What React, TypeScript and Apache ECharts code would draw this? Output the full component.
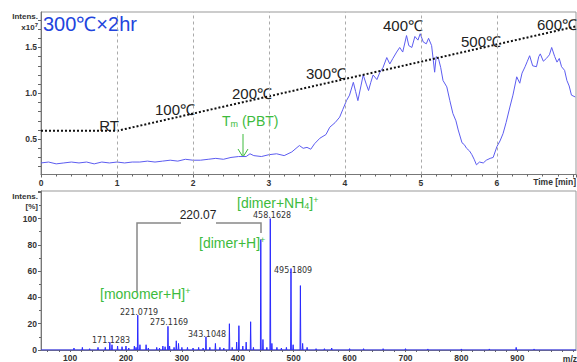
import React, { useEffect, useRef } from "react";
import * as echarts from "echarts";

// ---- Upper panel: total ion chromatogram (intensity x10^7 vs time in min)
const ticTime = [
  0, 0.1, 0.2, 0.3, 0.4, 0.5, 0.6, 0.7, 0.8, 0.9, 1.0, 1.1, 1.2, 1.3, 1.4, 1.5,
  1.6, 1.7, 1.8, 1.9, 2.0, 2.1, 2.2, 2.3, 2.4, 2.5, 2.6, 2.7, 2.75, 2.8, 2.9, 3.0,
  3.1, 3.2, 3.3, 3.4, 3.45, 3.5, 3.55, 3.6, 3.67, 3.75, 3.8, 3.87, 3.93, 3.97,
  4.02, 4.06, 4.11, 4.14, 4.17, 4.21, 4.24, 4.28, 4.31, 4.34, 4.37, 4.42, 4.46,
  4.5, 4.55, 4.59, 4.63, 4.68, 4.72, 4.76, 4.81, 4.84, 4.88, 4.92, 4.96, 4.99,
  5.03, 5.07, 5.1, 5.14, 5.18, 5.2, 5.23, 5.26, 5.29, 5.34, 5.38, 5.42, 5.46,
  5.49, 5.54, 5.57, 5.6, 5.64, 5.67, 5.7, 5.73, 5.77, 5.82, 5.86, 5.91, 5.95,
  6.0, 6.04, 6.08, 6.12, 6.17, 6.21, 6.26, 6.3, 6.33, 6.37, 6.4, 6.43, 6.47,
  6.52, 6.55, 6.57, 6.61, 6.65, 6.69, 6.72, 6.76, 6.79, 6.82, 6.85, 6.89, 6.92,
  6.95, 6.98, 7.03,
];
const ticIntensity = [
  0.24, 0.25, 0.23, 0.24, 0.25, 0.24, 0.25, 0.23, 0.25, 0.24, 0.25, 0.24, 0.25, 0.25, 0.26, 0.25,
  0.26, 0.27, 0.26, 0.28, 0.27, 0.27, 0.28, 0.29, 0.28, 0.3, 0.31, 0.31, 0.34, 0.32, 0.31, 0.33,
  0.34, 0.32, 0.36, 0.43, 0.4, 0.41, 0.39, 0.45, 0.51, 0.55, 0.63, 0.68, 0.74, 0.82,
  0.92, 0.98, 1.12, 1.02, 0.92, 1.08, 1.2, 1.1, 1.03, 1.12, 1.2, 1.15, 1.23,
  1.28, 1.39, 1.32, 1.38, 1.45, 1.5, 1.45, 1.63, 1.52, 1.5, 1.62, 1.58, 1.65,
  1.56, 1.54, 1.6, 1.52, 1.23, 1.4, 1.38, 1.28, 1.14, 1.07, 0.92, 0.78, 0.7,
  0.6, 0.46, 0.44, 0.4, 0.37, 0.33, 0.28, 0.22, 0.25, 0.24, 0.27, 0.29, 0.3,
  0.42, 0.48, 0.56, 0.68, 0.85, 0.98, 1.18, 1.11, 1.22, 1.29, 1.35, 1.41, 1.3,
  1.29, 1.4, 1.43, 1.35, 1.38, 1.42, 1.5, 1.4, 1.34, 1.38, 1.29, 1.25, 1.14,
  1.08, 0.98, 0.96,
];
// temperature programme overlay (drawn in the same scale as the chromatogram)
const tempTime = [0, 1, 7.04];
const tempLevel = [0.59, 0.59, 1.73];
const tempLabels = ["RT", "100℃", "200℃", "300℃", "400℃", "500℃", "600℃"];
const timeLabels = [0, 1, 2, 3, 4, 5, 6];
const timeGrid = [1, 2, 3, 4, 5, 6];
const intensityLabels = [0.5, 1.0, 1.5];
const intensityTickMarks = [0.2, 0.3, 0.4, 0.5, 0.6, 0.7, 0.8, 0.9, 1.0, 1.1, 1.2, 1.3, 1.4, 1.5, 1.6, 1.7, 1.8];

// ---- Lower panel: mass spectrum (relative intensity % vs m/z)
const peakMz = [
  107, 122, 135, 150, 163, 171.13, 175, 185, 193, 200, 205, 215, 218, 221.07, 225,
  236, 240, 255, 260, 266, 270, 275.12, 278, 286, 290, 294, 300, 310, 320, 330,
  338, 343.1, 350, 360, 368, 375, 385, 390, 398, 402, 409, 415, 423, 428, 441.15,
  445, 452, 458.16, 461, 470, 478, 487, 495.18, 499, 512, 516, 524, 540, 555, 568,
  600, 625, 660, 700, 740, 800, 850, 898, 930,
];
const peakPct = [
  1.5, 2, 1, 2, 2, 6, 4, 3, 2.5, 3, 1.5, 3, 2, 26.5, 4,
  4, 1.5, 2, 1.5, 3, 2.5, 18, 3, 2, 7, 5, 2, 2, 1.5, 2,
  1.5, 10, 2, 5, 2, 1.5, 20, 2, 6, 18.5, 3, 6, 21.5, 2, 84,
  8, 2, 100, 5, 2, 1.5, 2, 62, 4, 49, 5, 2, 1, 1, 1.5,
  1, 1, 1, 1, 0.8, 0.8, 0.8, 2, 0.8,
];
const mzLabels = [100, 200, 300, 400, 500, 600, 700, 800, 900];
const mzTickMarks = [
  60, 80, 100, 120, 140, 160, 180, 200, 220, 240, 260, 280, 300, 320, 340, 360, 380, 400,
  420, 440, 460, 480, 500, 520, 540, 560, 580, 600, 620, 640, 660, 680, 700, 720, 740,
  760, 780, 800, 820, 840, 860, 880, 900, 920, 940, 960, 980, 1000,
];
const pctLabels = [0, 20, 40, 60, 80, 100];

const GREEN = "#3dbb3d";
const AX = "#333";

export default function App() {
  const ref = useRef<HTMLDivElement>(null);
  useEffect(() => {
    if (!ref.current) return;
    const chart = echarts.init(ref.current, null, { renderer: "svg" });

    const tic = ticTime.map((t, i) => [t, ticIntensity[i]]);
    const temp = tempTime.map((t, i) => [t, tempLevel[i]]);
    const spectrum: number[][] = [];
    peakMz.forEach((m, i) => {
      spectrum.push([m - 0.7, 0], [m, peakPct[i]], [m + 0.7, 0]);
    });
    spectrum.unshift([48, 0]);
    spectrum.push([1005, 0]);

    const axisLabelBase = { fontSize: 8.5, fontWeight: "bold", color: AX, fontFamily: "Liberation Sans" };

    const txt = (text: string, x: number, y: number, opts: any = {}) => ({
      type: "text",
      x,
      y,
      silent: true,
      style: {
        text,
        fill: opts.fill || "#222",
        font: opts.font || "12px 'Liberation Sans'",
        textAlign: opts.align || "left",
        textVerticalAlign: "middle",
        rich: opts.rich,
      },
    });

    const tempPos = [
      [109, 125], [175, 109], [252, 93], [326, 73], [403, 25], [481, 41], [557, 24],
    ];

    const greenRich = {
      sub: { fontSize: 9, fill: GREEN, color: GREEN, verticalAlign: "bottom", fontFamily: "Liberation Sans", padding: [6, 0, 0, 0] },
      sup: { fontSize: 9, fill: GREEN, color: GREEN, verticalAlign: "top", fontFamily: "Liberation Sans", padding: [0, 0, 6, 0] },
    };

    chart.setOption({
      animation: false,
      backgroundColor: "#fff",
      grid: [
        { left: 41, right: 1, top: 12, bottom: 187.5, show: true, borderColor: "#999", borderWidth: 1, containLabel: false },
        { left: 41, right: 1, top: 191, bottom: 9, show: true, borderColor: "#999", borderWidth: 1, containLabel: false },
      ],
      xAxis: [
        {
          type: "value", gridIndex: 0, min: 0, max: 7.04, interval: 1,
          axisLine: { lineStyle: { color: "#777" } },
          axisTick: { length: 3, lineStyle: { color: "#666" } },
          minorTick: { show: true, splitNumber: 5, length: 2, lineStyle: { color: "#666" } },
          axisLabel: { ...axisLabelBase, customValues: timeLabels, margin: 4 },
          splitLine: { show: false },
        },
        {
          type: "value", gridIndex: 1, min: 48, max: 1005,
          axisLine: { lineStyle: { color: "#777" } },
          axisTick: { length: 2, customValues: mzTickMarks, lineStyle: { color: "#666" } },
          axisLabel: { ...axisLabelBase, customValues: mzLabels, margin: 3 },
          splitLine: { show: false },
        },
      ],
      yAxis: [
        {
          type: "value", gridIndex: 0, min: 0.114, max: 1.887,
          axisLine: { show: true, lineStyle: { color: "#777" } },
          axisTick: { show: true, length: 3, customValues: intensityTickMarks, lineStyle: { color: "#666" } },
          axisLabel: { ...axisLabelBase, customValues: intensityLabels, margin: 4, formatter: (v: number) => v.toFixed(1) },
          splitLine: { show: false },
        },
        {
          type: "value", gridIndex: 1, min: 0, max: 121, interval: 20,
          axisLine: { show: true, lineStyle: { color: "#777" } },
          axisTick: { show: true, length: 3, lineStyle: { color: "#666" } },
          minorTick: { show: true, splitNumber: 2, length: 2, lineStyle: { color: "#666" } },
          axisLabel: { ...axisLabelBase, customValues: pctLabels, margin: 4 },
          splitLine: { show: false },
        },
      ],
      series: [
        {
          type: "line", xAxisIndex: 0, yAxisIndex: 0, data: [], z: 1, silent: true,
          markLine: {
            silent: true, symbol: "none", label: { show: false },
            lineStyle: { color: "#aaa", type: [3, 3], width: 1 },
            data: timeGrid.map((v) => ({ xAxis: v })),
          },
        },
        {
          type: "line", xAxisIndex: 0, yAxisIndex: 0, data: tic, showSymbol: false, z: 3,
          lineStyle: { color: "#5c5cf0", width: 1 },
        },
        {
          type: "line", xAxisIndex: 0, yAxisIndex: 0, data: temp, showSymbol: false, z: 4,
          lineStyle: { color: "#111", width: 2, type: [2, 2] },
        },
        {
          type: "line", xAxisIndex: 1, yAxisIndex: 1, data: spectrum, showSymbol: false, z: 3,
          lineStyle: { color: "#2a2aff", width: 1 },
        },
      ],
      graphic: [
        txt("300℃×2hr", 43, 24, { fill: "#2244dd", font: "20px 'Liberation Sans'" }),
        txt("Intens.", 38, 16, { fill: AX, font: "bold 8px 'Liberation Sans'", align: "right" }),
        txt("x10{s|7}", 38, 27, {
          fill: AX, font: "bold 8px 'Liberation Sans'", align: "right",
          rich: { s: { fontSize: 6, fontWeight: "bold", fill: AX, verticalAlign: "top", padding: [0, 0, 4, 0] } },
        }),
        ...tempLabels.map((l, i) => txt(l, tempPos[i][0], tempPos[i][1], { font: "15px 'Liberation Sans'", fill: "#222", align: "center" })),
        txt("T{sub|m} (PBT)", 222, 121, { fill: GREEN, font: "14px 'Liberation Sans'", rich: greenRich }),
        { type: "line", silent: true, shape: { x1: 243, y1: 134, x2: 243, y2: 157 }, style: { stroke: GREEN, lineWidth: 1 } },
        { type: "polyline", silent: true, shape: { points: [[238, 149], [243, 157], [248, 149]] }, style: { stroke: GREEN, lineWidth: 1, fill: null } },
        txt("Time [min]", 576, 182, { fill: AX, font: "bold 8.5px 'Liberation Sans'", align: "right" }),
        txt("Intens.", 38, 196, { fill: AX, font: "bold 8px 'Liberation Sans'", align: "right" }),
        txt("[%]", 38, 206, { fill: AX, font: "bold 8px 'Liberation Sans'", align: "right" }),
        txt("m/z", 577, 359, { fill: AX, font: "bold 8.5px 'Liberation Sans'", align: "right" }),
        { type: "polyline", silent: true, shape: { points: [[137, 292], [137, 223], [181, 223]] }, style: { stroke: "#888", lineWidth: 1.5, fill: null } },
        { type: "polyline", silent: true, shape: { points: [[216, 223], [261, 223], [261, 233]] }, style: { stroke: "#888", lineWidth: 1.5, fill: null } },
        txt("220.07", 198, 215, { fill: "#222", font: "12px 'Liberation Sans'", align: "center" }),
        txt("[dimer+NH{sub|4}]{sup|+}", 237, 202.5, { fill: GREEN, font: "14px 'Liberation Sans'", rich: greenRich }),
        txt("[dimer+H]{sup|+}", 199, 243, { fill: GREEN, font: "14px 'Liberation Sans'", rich: greenRich }),
        txt("[monomer+H]{sup|+}", 100, 294, { fill: GREEN, font: "14px 'Liberation Sans'", rich: greenRich }),
        txt("458.1628", 253, 215, { fill: "#333", font: "8px 'DejaVu Sans'" }),
        txt("495.1809", 274, 270, { fill: "#333", font: "8px 'DejaVu Sans'" }),
        txt("221.0719", 120, 312, { fill: "#333", font: "8px 'DejaVu Sans'" }),
        txt("275.1169", 150, 322.5, { fill: "#333", font: "8px 'DejaVu Sans'" }),
        txt("343.1048", 188, 334, { fill: "#333", font: "8px 'DejaVu Sans'" }),
        txt("171.1283", 92, 340, { fill: "#333", font: "8px 'DejaVu Sans'" }),
      ],
    });
    return () => chart.dispose();
  }, []);
  return <div ref={ref} style={{ position: "absolute", left: 0, top: 0, width: 577, height: 362 }} />;
}
